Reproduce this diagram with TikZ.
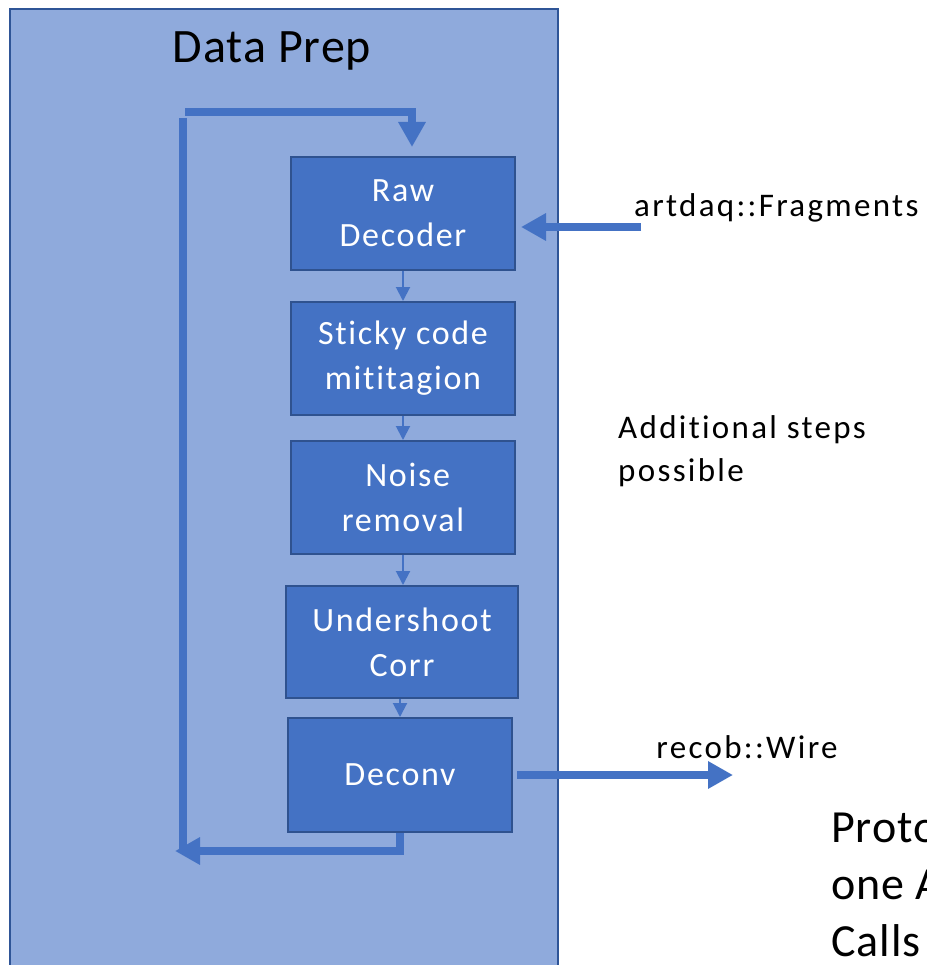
\documentclass[tikz,border=0pt]{standalone}
\usepackage{fontspec}
\setmainfont{Carlito}[LetterSpace=5, Ligatures=NoCommon]
\newfontfamily\titlefont{Carlito}[LetterSpace=2, Ligatures=NoCommon]
\newfontfamily\labelfont{Carlito}[LetterSpace=7, Ligatures=NoCommon]
\usetikzlibrary{arrows.meta}
\definecolor{outerfill}{RGB}{143,170,220}
\definecolor{outerline}{RGB}{47,85,151}
\definecolor{boxfill}{RGB}{68,114,196}
\definecolor{boxline}{RGB}{47,82,143}
\definecolor{arrowc}{RGB}{68,114,196}
\tikzset{
  stepbox/.style={draw=boxline, line width=2pt, fill=boxfill, text=white, align=center,
    font=\fontsize{34}{45}\selectfont, inner sep=0pt},
  thinarrow/.style={draw=arrowc, line width=2pt, -{Triangle[width=14pt,length=14pt]}},
  thickarrow/.style={draw=arrowc, line width=8pt, -{Triangle[width=26pt,length=25pt]}},
  thickline/.style={draw=arrowc, line width=8pt},
  label/.style={font=\labelfont\fontsize{33}{43}\selectfont, text=black, inner sep=0pt, align=left},
}
\begin{document}
\begin{tikzpicture}[x=1pt,y=-1pt]
\useasboundingbox (0,0) rectangle (926,965);
\clip (0,0) rectangle (926,965);
\fill[white] (0,0) rectangle (926,965);
% outer box
\draw[draw=outerline, line width=2pt, fill=outerfill] (10,9) rectangle (558,1000);
\node[font=\titlefont\fontsize{48}{56}\selectfont, inner sep=0pt] (title) at (272,51) {Data Prep};
% steps
\node[stepbox, minimum width=224pt, minimum height=113pt] (raw) at (403,213.5) {Raw\\Decoder};
\node[stepbox, minimum width=224pt, minimum height=113pt] (sticky) at (403,358.5) {Sticky code\\mititagion};
\node[stepbox, minimum width=224pt, minimum height=113pt] (noise) at (403,497.5) {\ Noise\\removal};
\node[stepbox, minimum width=232pt, minimum height=112pt] (under) at (402,642) {Undershoot\\Corr};
\node[stepbox, minimum width=224pt, minimum height=114pt] (deconv) at (400,775) {Deconv};
% thin arrows
\draw[thinarrow] (raw.south) -- (sticky.north);
\draw[thinarrow] (sticky.south) -- (noise.north);
\draw[thinarrow] (noise.south) -- (under.north -| noise.south);
\draw[thinarrow] (under.south -| deconv.north) -- (deconv.north);
% loop
\coordinate (loopstart) at (185,112);
\coordinate (looptip) at (412,147);
\coordinate (looptop) at (183,118);
\coordinate (loopbot) at (183,850);
\coordinate (loopend) at (175,851);
\draw[thickarrow] (loopstart) -| (looptip);
\draw[thickline] (looptop) -- (loopbot);
\draw[thickarrow] (deconv.south) |- (loopend);
% input / output
\coordinate (inpt) at (641,227);
\coordinate (outpt) at (733,775);
\draw[thickarrow, shorten >=5pt] (inpt) -- (raw.east |- inpt);
\draw[thickarrow, shorten <=4pt] (deconv.east) -- (outpt);
% labels
\node[label, anchor=west] (frag) at (634,208) {artdaq::Fragments};
\node[label] (wire) at (747,747) {recob::Wire};
\node[label, anchor=west] (addl) at (618,451) {Additional steps\\possible};
\node[font=\titlefont\fontsize{46}{57}\selectfont, inner sep=0pt, align=left, anchor=west] (proto) at (831,885) {Proto\\one A\\Calls};
\end{tikzpicture}
\end{document}
